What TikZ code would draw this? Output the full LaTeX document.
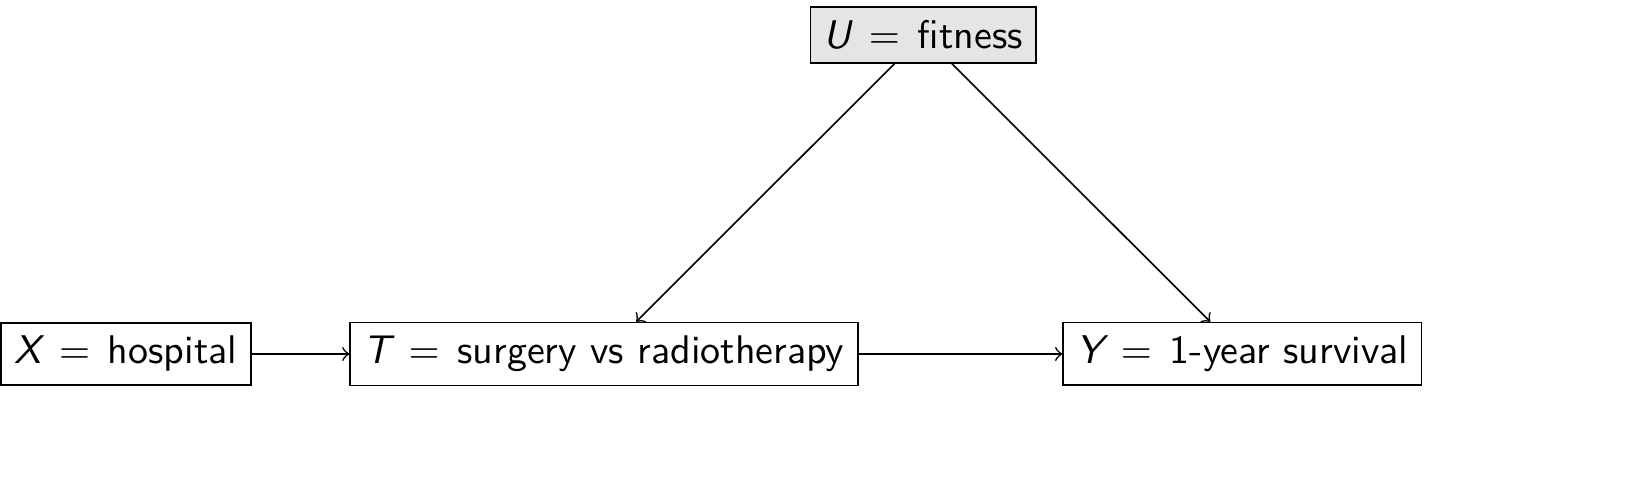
\documentclass[tikz,border=0pt]{standalone}
\usepackage{amsmath}
\usepackage{tikz}
\usetikzlibrary{arrows, positioning, calc}

\begin{document}
\begin{tikzpicture}[every node/.style={draw, font=\sffamily, anchor=center}]
  \useasboundingbox (0,0) rectangle (406.25pt,122pt);
  \node (X) at (31.5pt,33.5pt) {$\textit{X} \,=\, \text{hospital}$};
  \node (T) [right of=X, node distance=119.5pt] {$\textit{T} \,=\, \text{surgery vs radiotherapy}$};
  \node (Y) [right of=T, node distance=159.6pt] {$\textit{Y} \,=\, \text{1-year survival}$};
  \node (U) [fill=gray!20] at ($(T)!0.5!(Y)+(0,79.75pt)$) {$\textit{U} \,=\, \text{fitness}$};
  \draw[->] (X) -- (T);
  \draw[->] (T) -- (Y);
  \draw[->] (U) -- (T);
  \draw[->] (U) -- (Y);
\end{tikzpicture}
\end{document}
